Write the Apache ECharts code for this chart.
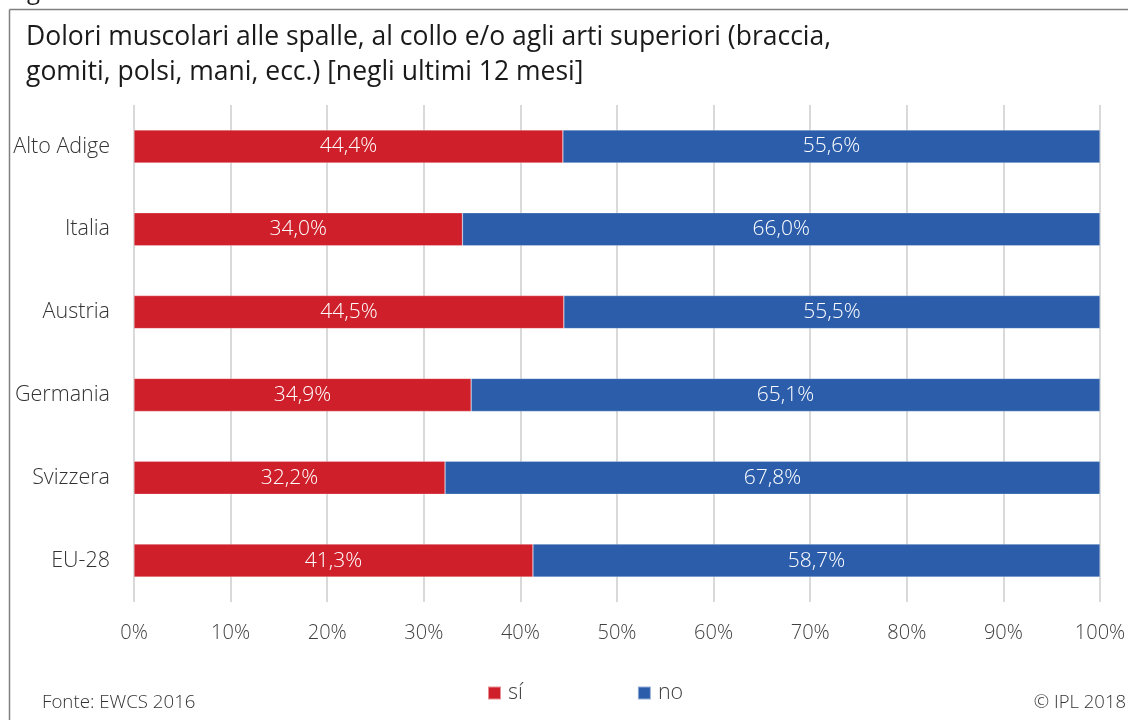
<!DOCTYPE html>
<html>
<head>
<meta charset="utf-8">
<script src="https://cdn.jsdelivr.net/npm/echarts@6/dist/echarts.min.js"></script>
<style>html,body{margin:0;padding:0;background:#fff}#c{width:1129px;height:720px}</style>
</head>
<body>
<div id="c"></div>
<script>
const categories = ['Alto Adige', 'Italia', 'Austria', 'Germania', 'Svizzera', 'EU-28'];
const siValues = [44.4, 34.0, 44.5, 34.9, 32.2, 41.3];
const noValues = [55.6, 66.0, 55.5, 65.1, 67.8, 58.7];
const seriesNames = ['sí', 'no'];
const titleText = 'Dolori muscolari alle spalle, al collo e/o agli arti superiori (braccia,\ngomiti, polsi, mani, ecc.) [negli ultimi 12 mesi]';
const sourceText = 'Fonte: EWCS 2016';
const creditText = '© IPL 2018';

const FONT = 'Open Sans';
const fmt = v => v.toFixed(1).replace('.', ',') + '%';

const chart = echarts.init(document.getElementById('c'), null, {renderer: 'canvas'});
chart.setOption({
  animation: false,
  textStyle: {fontFamily: FONT},
  grid: {left: 134, right: 29, top: 105, bottom: 118},
  title: {
    text: titleText, left: 26, top: 20, padding: 0,
    textStyle: {fontFamily: FONT, fontSize: 26.5, fontWeight: 'normal', color: '#1a1a1a', lineHeight: 35}
  },
  legend: {
    data: seriesNames, left: 487, top: 682, itemWidth: 13, itemHeight: 13, itemGap: 114,
    icon: 'rect', padding: 0,
    textStyle: {fontFamily: FONT, fontSize: 21.5, color: '#404040', fontWeight: 300, padding: [0, 0, 0, 2]}
  },
  xAxis: {
    type: 'value', min: 0, max: 100, interval: 10,
    axisLabel: {formatter: v => v + '%', fontSize: 20, color: '#404040', margin: 21, fontFamily: FONT, fontWeight: 300},
    axisLine: {show: false}, axisTick: {show: false},
    splitLine: {show: true, lineStyle: {color: '#d9d9d9', width: 2}}
  },
  yAxis: {
    type: 'category', data: categories, inverse: true,
    axisLabel: {fontSize: 21.5, color: '#333', margin: 24, fontFamily: FONT, fontWeight: 300},
    axisLine: {show: false}, axisTick: {show: false}
  },
  series: [
    {name: seriesNames[0], type: 'bar', stack: 'a', data: siValues, barWidth: 33,
     itemStyle: {color: '#ce1f2a', borderColor: 'rgba(255,255,255,0.5)', borderWidth: 0.5},
     label: {show: true, position: 'inside', color: '#fff', fontSize: 21, fontFamily: FONT, fontWeight: 300, formatter: p => fmt(p.value)}},
    {name: seriesNames[1], type: 'bar', stack: 'a', data: noValues, barWidth: 33,
     itemStyle: {color: '#2b5dab', borderColor: 'rgba(255,255,255,0.5)', borderWidth: 0.5},
     label: {show: true, position: 'inside', color: '#fff', fontSize: 21, fontFamily: FONT, fontWeight: 300, formatter: p => fmt(p.value)}}
  ],
  graphic: [
    {type: 'line', shape: {x1: 9.5, y1: 9.5, x2: 9.5, y2: 720}, style: {stroke: '#7f7f7f', lineWidth: 1.5}},
    {type: 'line', shape: {x1: 9.5, y1: 9.5, x2: 1128, y2: 9.5}, style: {stroke: '#7f7f7f', lineWidth: 1.5}},
    {type: 'text', x: 27, y: 4, style: {text: 'g', font: '24px "' + FONT + '"', fill: '#1a1a1a', verticalAlign: 'bottom'}},
    {type: 'text', left: 42, top: 693, style: {text: sourceText, font: '300 18.7px "' + FONT + '"', fill: '#333'}},
    {type: 'text', right: 3, top: 693, style: {text: creditText, font: '300 18.5px "' + FONT + '"', fill: '#333'}}
  ]
});
</script>
</body>
</html>
